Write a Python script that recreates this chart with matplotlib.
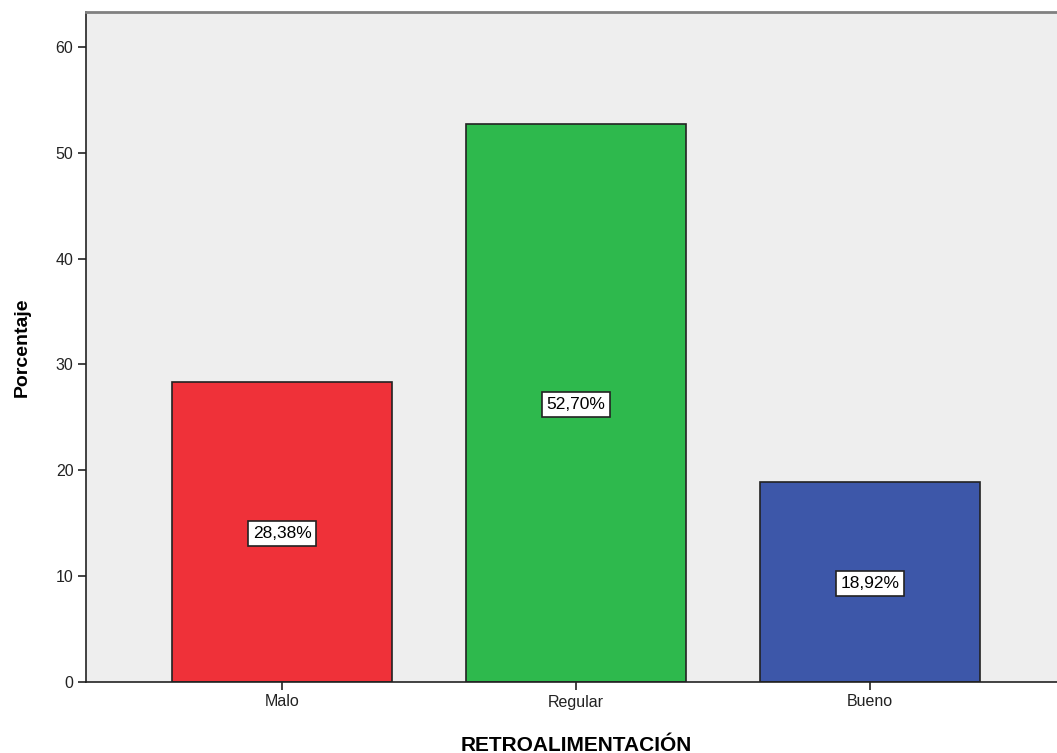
import matplotlib
matplotlib.use("Agg")
import matplotlib.pyplot as plt

plt.rcParams['font.family'] = ['Liberation Sans', 'DejaVu Sans']

categorias = ["Malo", "Regular", "Bueno"]
porcentajes = [28.38, 52.70, 18.92]
colores = ["#EF3139", "#2EB94D", "#3D57A9"]

fig = plt.figure(figsize=(10.57, 7.53), dpi=100)
# plot area runs slightly past the right edge of the image
ax = fig.add_axes([86 / 1057, 71 / 753, 980 / 1057, 670 / 753])
ax.set_facecolor("#EEEEEE")

x = range(len(categorias))
ax.bar(x, porcentajes, width=0.748, color=colores, edgecolor="#222222", linewidth=1.2, zorder=2)

# value labels in the middle of each bar
for i, v in zip(x, porcentajes):
    etiqueta = f"{v:.2f}%".replace(".", ",")
    ax.text(i, v / 2, etiqueta, ha="center", va="center_baseline", fontsize=12.5, zorder=3,
            bbox=dict(boxstyle="square,pad=0.28", facecolor="white", edgecolor="#222222", linewidth=1.2))

ax.set_xlim(-0.667, 2.667)
ax.set_ylim(0, 63.3)
ax.set_yticks([0, 10, 20, 30, 40, 50, 60])
ax.set_xticks(list(x))
ax.set_xticklabels(categorias)
ax.tick_params(axis="both", direction="out", length=6, width=1.2, colors="#222222", labelsize=11.5, pad=3)

ax.spines["left"].set_color("#222222")
ax.spines["bottom"].set_color("#222222")
ax.spines["left"].set_linewidth(1.2)
ax.spines["bottom"].set_linewidth(1.2)
ax.spines["top"].set_color("#808080")
ax.spines["top"].set_linewidth(2)
ax.spines["right"].set_visible(False)

ax.set_ylabel("Porcentaje", fontsize=14, fontweight="bold", labelpad=18)
ax.set_xlabel("RETROALIMENTACIÓN", fontsize=15, fontweight="bold", labelpad=19)

fig.savefig("out.png", dpi=100)
